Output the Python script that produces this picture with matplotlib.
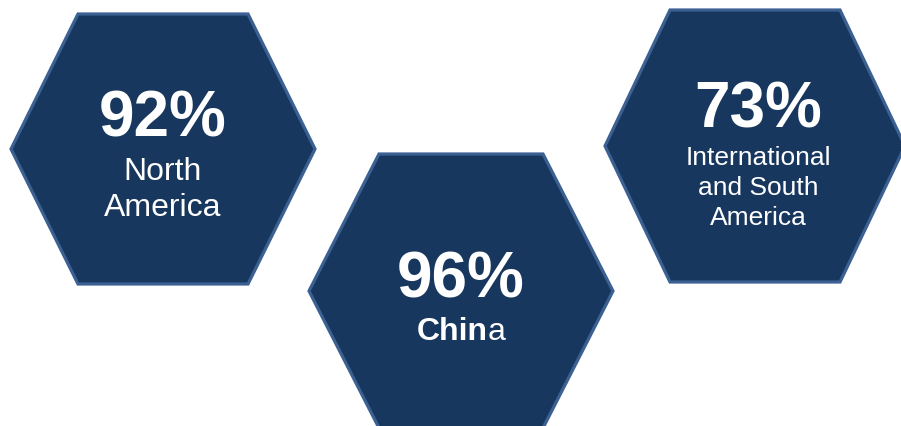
import matplotlib
matplotlib.use("Agg")
import matplotlib.pyplot as plt
from matplotlib.patches import Polygon

plt.rcParams['font.family'] = ['Liberation Sans', 'DejaVu Sans']

# values
regions = ["North\nAmerica", "China", "International\nand South\nAmerica"]
percents = [92, 96, 73]

# layout of each hexagon (pixel space, y down)
centers = [(163, 150), (461, 292), (755, 147)]
half_w = [152, 152, 150]
half_top = [85, 82, 85]
half_h = [135, 137, 136]
text_x = [163, 461, 758]
value_size = [46, 46, 46]
value_y = [137, 298, 127]
label_size = [23, 23, 19]
label_y = [180, 340, 165]
label_pitch = [36, 36, 30]

fill = "#17375E"
edge = "#3B6092"

fig = plt.figure(figsize=(9.01, 4.27), dpi=100)
ax = fig.add_axes([0, 0, 1, 1])
ax.set_xlim(0, 901)
ax.set_ylim(427, 0)
ax.axis('off')

for i, (cx, cy) in enumerate(centers):
    w, t, h = half_w[i], half_top[i], half_h[i]
    pts = [(cx - t, cy - h), (cx + t, cy - h), (cx + w, cy),
           (cx + t, cy + h), (cx - t, cy + h), (cx - w, cy)]
    ax.add_patch(Polygon(pts, closed=True, facecolor=fill, edgecolor=edge,
                         linewidth=2.3, joinstyle='miter'))

renderer = fig.canvas.get_renderer()
for i in range(len(regions)):
    tx = text_x[i]
    ax.text(tx, value_y[i], f"{percents[i]}%", color='white', fontsize=value_size[i],
            fontweight='bold', ha='center', va='baseline')
    if regions[i] == "China":
        # "Chin" is bold, trailing "a" regular
        t1 = ax.text(0, 0, "Chin", fontsize=label_size[i], fontweight='bold')
        t2 = ax.text(0, 0, "a", fontsize=label_size[i])
        w1 = t1.get_window_extent(renderer).width
        w2 = t2.get_window_extent(renderer).width
        t1.remove()
        t2.remove()
        x0 = tx - (w1 + w2) / 2
        ax.text(x0, label_y[i], "Chin", color='white', fontsize=label_size[i],
                fontweight='bold', ha='left', va='baseline')
        ax.text(x0 + w1, label_y[i], "a", color='white', fontsize=label_size[i],
                ha='left', va='baseline')
    else:
        for j, line in enumerate(regions[i].split("\n")):
            ax.text(tx, label_y[i] + j * label_pitch[i], line, color='white',
                    fontsize=label_size[i], ha='center', va='baseline')

fig.savefig("out.png", dpi=100)
